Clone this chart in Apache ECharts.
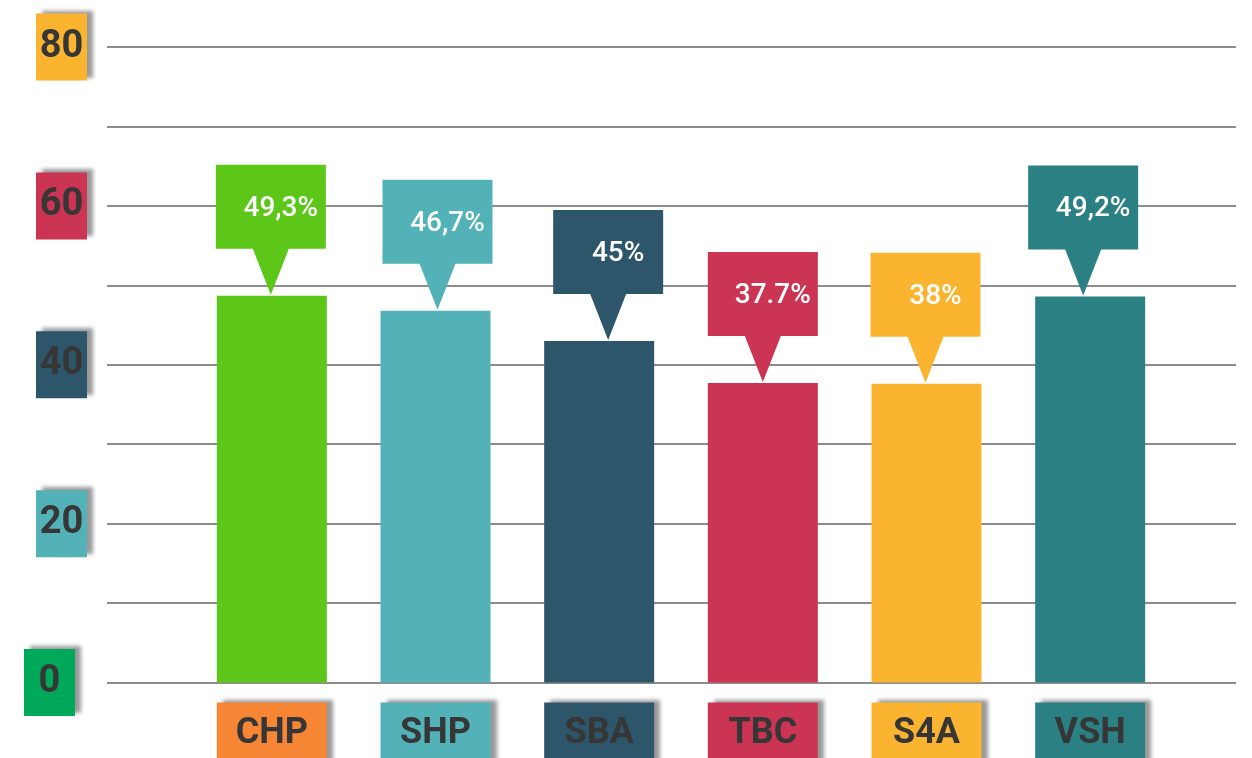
<!DOCTYPE html>
<html>
<head>
<meta charset="utf-8">
<script src="https://cdn.jsdelivr.net/npm/echarts@6/dist/echarts.min.js"></script>
<style>
html, body { margin: 0; padding: 0; background: #fff; }
#main { width: 1252px; height: 758px; }
</style>
</head>
<body>
<div id="main"></div>
<script>
// data
var categories = [ 'CHP', 'SHP', 'SBA', 'TBC', 'S4A', 'VSH' ];
var barValues = [ 48.7, 46.8, 43.0, 37.7, 37.6, 48.6 ];
var calloutTexts = [ '49,3%', '46,7%', '45%', '37.7%', '38%', '49,2%' ];
var yTicks = [ 0, 20, 40, 60, 80 ];

// colours
var barColors = [ '#5cc718', '#52b2b8', '#2d566b', '#cb3553', '#fbb430', '#2a8083' ];
var catColors = [ '#f68634', '#52b2b8', '#2d566b', '#cb3553', '#fbb430', '#2a8083' ];
var tickColors = { 0 : '#00a859', 20 : '#52b2b8', 40 : '#2d566b', 60 : '#cb3553', 80 : '#fbb430' };
var calloutShift = [ -1, 2, 9, 0, -1, -7 ];

var FONT = "Roboto, 'Liberation Sans', sans-serif";
var PIN = 'path://M0,0L110,0L110,84L73,84L55,130L37,84L0,84Z';

function boxStyle(color, w, h, size) {
	return {
		backgroundColor : color,
		width : w,
		height : h,
		lineHeight : h,
		align : 'center',
		color : '#363636',
		fontSize : size,
		fontWeight : 'bold',
		fontFamily : FONT,
		shadowColor : 'rgba(0,0,0,0.4)',
		shadowBlur : 4,
		shadowOffsetX : 6,
		shadowOffsetY : -3
	};
}

var yRich = { sp : { width : 12 } };
yTicks.forEach(function(t) {
	yRich['t' + t] = boxStyle(tickColors[t], 51, 67, 38);
});

var xRich = {};
categories.forEach(function(c, i) {
	xRich['c' + i] = boxStyle(catColors[i], 110, 62, 36);
});

var barData = barValues.map(function(v, i) {
	return { value : v, itemStyle : { color : barColors[i] } };
});

var pinData = barValues.map(function(v, i) {
	return {
		value : [ i, v ],
		symbolOffset : [ calloutShift[i], -66 ],
		itemStyle : { color : barColors[i], opacity : 1 },
		label : { formatter : calloutTexts[i] }
	};
});

var myChart = echarts.init(document.getElementById('main'));
var option = {
	animation : false,
	grid : [ {
		left : 107, right : 16, top : 47, bottom : 75.5, outerBoundsMode : 'none'
	}, {
		left : 190, right : 80, top : 47, bottom : 75.5, outerBoundsMode : 'none'
	} ],
	xAxis : [ {
		gridIndex : 0, type : 'value', show : false
	}, {
		gridIndex : 1,
		type : 'category',
		data : categories,
		axisLine : { show : false },
		axisTick : { show : false },
		axisLabel : {
			margin : 20,
			formatter : function(val, idx) {
				return '{c' + idx + '|' + val + '}';
			},
			rich : xRich
		}
	} ],
	yAxis : [ {
		gridIndex : 0,
		type : 'value',
		min : 0,
		max : 80,
		interval : 10,
		axisLine : { show : false },
		axisTick : { show : false },
		splitLine : { lineStyle : { color : '#8c8c8c', width : 2 } },
		axisLabel : {
			margin : 20,
			formatter : function(val) {
				if (yTicks.indexOf(val) < 0) return '';
				return '{t' + val + '|' + val + '}' + (val === 0 ? '{sp|}' : '');
			},
			rich : yRich
		}
	}, {
		gridIndex : 1, type : 'value', min : 0, max : 80, show : false
	} ],
	series : [ {
		type : 'bar',
		xAxisIndex : 1,
		yAxisIndex : 1,
		barWidth : 110,
		data : barData
	}, {
		type : 'scatter',
		xAxisIndex : 1,
		yAxisIndex : 1,
		symbol : PIN,
		symbolSize : [ 110, 130 ],
		z : 5,
		emphasis : { disabled : true },
		itemStyle : { opacity : 1 },
		label : {
			show : true,
			position : 'inside',
			offset : [ 10, -21 ],
			color : '#fff',
			fontSize : 28,
			fontWeight : 500,
			fontFamily : FONT
		},
		data : pinData
	} ]
};
myChart.setOption(option);
</script>
</body>
</html>
